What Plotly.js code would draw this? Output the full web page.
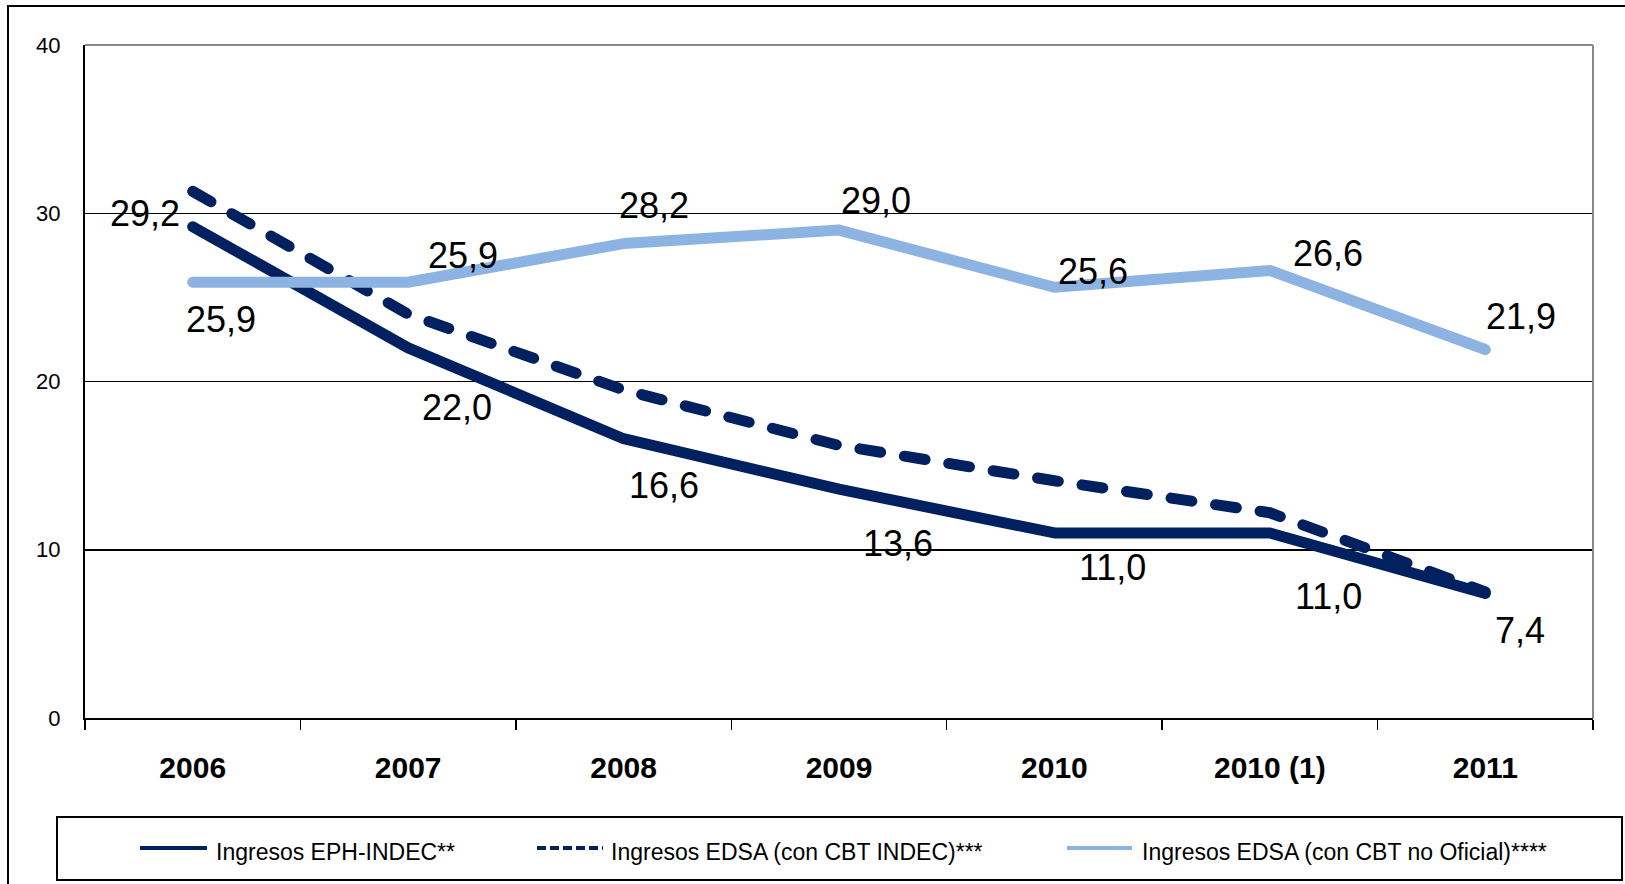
<!DOCTYPE html>
<html>
<head>
<meta charset="utf-8">
<script src="https://cdn.plot.ly/plotly-3.0.1.min.js"></script>
<style>
html,body{margin:0;padding:0;background:#fff;}
#chart{width:1625px;height:884px;}
.scatterlayer .js-line{stroke-linecap:round;stroke-linejoin:round;}
</style>
</head>
<body>
<div id="chart"></div>
<script>
// ---- data ----
const categories = ["2006", "2007", "2008", "2009", "2010", "2010 (1)", "2011"];
const ephIndec = [29.2, 22.0, 16.6, 13.6, 11.0, 11.0, 7.4];
const edsaIndec = [31.3, 24.0, 19.5, 16.2, 14.1, 12.2, 7.5];
const edsaNoOficial = [25.9, 25.9, 28.2, 29.0, 25.6, 26.6, 21.9];
const seriesNames = ["Ingresos EPH-INDEC**", "Ingresos EDSA (con CBT INDEC)***", "Ingresos EDSA (con CBT no Oficial)****"];
const yTicks = [0, 10, 20, 30, 40];

// ---- styles ----
const NAVY = "#002060";
const LIGHT = "#8DB3E2";
const FONT = "Liberation Sans, Arial, sans-serif";
const ephLabelOffsets = [[-48, 13], [49, -60], [40, -47], [59, -54], [58, -35], [59, -64], [35, -37]];
const lightLabelOffsets = [[28, -37], [55, 27], [30, 38], [37, 30], [39, 16], [58, 17], [36, 33]];

const W = 1625, H = 884;
const M = {l: 85, r: 32, t: 45, b: 166};
const PW = W - M.l - M.r, PH = H - M.t - M.b;
const px = x => (x - M.l) / PW;
const py = y => (H - M.b - y) / PH;

const fmt = v => v.toFixed(1).replace('.', ',');

const traces = [
  {x: categories, y: ephIndec, name: seriesNames[0], type: "scatter", mode: "lines",
   line: {color: NAVY, width: 11}, hoverinfo: "skip"},
  {x: categories, y: edsaIndec, name: seriesNames[1], type: "scatter", mode: "lines",
   line: {color: NAVY, width: 11, dash: "21px,24px"}, hoverinfo: "skip"},
  {x: categories, y: edsaNoOficial, name: seriesNames[2], type: "scatter", mode: "lines",
   line: {color: LIGHT, width: 11}, hoverinfo: "skip"}
];

const annotations = [];
function addLabels(vals, offs) {
  vals.forEach((v, i) => {
    annotations.push({
      x: i, y: v, xref: "x", yref: "y", text: fmt(v), showarrow: false,
      xanchor: "center", yanchor: "middle", xshift: offs[i][0], yshift: offs[i][1],
      font: {family: FONT, size: 36, color: "#000"}
    });
  });
}
addLabels(ephIndec, ephLabelOffsets);
addLabels(edsaNoOficial, lightLabelOffsets);

// custom legend
const legY = py(848);
const legTextY = py(852);
const legItems = [
  {x0: 140, x1: 207, tx: 214, color: NAVY, dash: "solid", name: seriesNames[0]},
  {x0: 537, x1: 603, tx: 609, color: NAVY, dash: "9px,4px", name: seriesNames[1]},
  {x0: 1067, x1: 1132, tx: 1140, color: LIGHT, dash: "solid", name: seriesNames[2]}
];
const shapes = [
  // outer frame
  {type: "rect", xref: "paper", yref: "paper", x0: px(8), x1: px(1640), y0: py(900), y1: py(6),
   line: {color: "#000", width: 2}, layer: "below"},
  // plot top & right border (grey)
  {type: "line", xref: "paper", yref: "paper", x0: 0, x1: 1, y0: 1, y1: 1, line: {color: "#888", width: 2}},
  {type: "line", xref: "paper", yref: "paper", x0: 1, x1: 1, y0: 0, y1: 1, line: {color: "#888", width: 2}},
  // legend box
  {type: "rect", xref: "paper", yref: "paper", x0: px(57), x1: px(1622), y0: py(880), y1: py(817),
   line: {color: "#000", width: 2}}
];
legItems.forEach(it => {
  shapes.push({type: "line", xref: "paper", yref: "paper", x0: px(it.x0), x1: px(it.x1), y0: legY, y1: legY,
    line: {color: it.color, width: 4, dash: it.dash}});
  annotations.push({xref: "paper", yref: "paper", x: px(it.tx), y: legTextY, text: it.name, showarrow: false,
    xanchor: "left", yanchor: "middle", font: {family: FONT, size: 23, color: "#000"}});
});

const layout = {
  width: W, height: H,
  margin: M,
  paper_bgcolor: "#fff", plot_bgcolor: "#fff",
  showlegend: false,
  font: {family: FONT, color: "#000"},
  xaxis: {
    type: "category", range: [-0.5, 6.5], tickson: "boundaries",
    ticks: "outside", ticklen: 10, tickwidth: 1.5, tickcolor: "#000",
    showline: true, linecolor: "#000", linewidth: 2, showgrid: false, zeroline: false,
    tickfont: {family: FONT, size: 30, weight: "bold", color: "#000"},
    ticklabelstandoff: 22, fixedrange: true
  },
  yaxis: {
    range: [0, 40], tickvals: yTicks, ticktext: yTicks.map(String),
    ticks: "", showline: true, linecolor: "#000", linewidth: 2,
    showgrid: true, gridcolor: "#000", gridwidth: 1.5, zeroline: false,
    tickfont: {family: FONT, size: 22, color: "#000"}, ticklabelstandoff: 18, fixedrange: true
  },
  shapes: shapes,
  annotations: annotations
};

Plotly.newPlot("chart", traces, layout, {staticPlot: true, displayModeBar: false});
</script>
</body>
</html>
